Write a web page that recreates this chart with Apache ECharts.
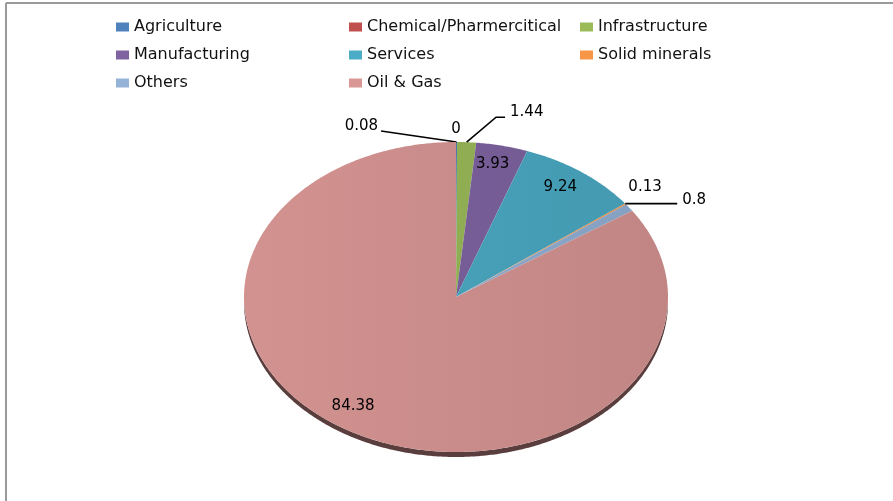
<!DOCTYPE html>
<html>
<head>
<meta charset="utf-8">
<script src="https://cdn.jsdelivr.net/npm/echarts@6/dist/echarts.min.js"></script>
<style>
html, body { margin: 0; padding: 0; background: #ffffff; }
#chart { width: 893px; height: 501px; }
</style>
</head>
<body>
<div id="chart"></div>
<script>
// Sector shares (percent)
const categories = ['Agriculture', 'Chemical/Pharmercitical', 'Infrastructure', 'Manufacturing',
                    'Services', 'Solid minerals', 'Others', 'Oil & Gas'];
const shares = [0.08, 0, 1.44, 3.93, 9.24, 0.13, 0.8, 84.38];

// Legend columns (read top to bottom)
const legendColumns = [
  ['Agriculture', 'Manufacturing', 'Others'],
  ['Chemical/Pharmercitical', 'Services', 'Oil & Gas'],
  ['Infrastructure', 'Solid minerals']
];

const palette = ['#4F81BD', '#C0504D', '#9BBB59', '#8064A2', '#4BACC6', '#F79646', '#95B3D7', '#D99694'];

// Tilted pie: ellipse centre, radii and visible depth of the side wall
const PIE = { cx: 456, cy: 297, rx: 212, ry: 155, depth: 5 };

// Label placement relative to the point on the rim at each slice's mid angle
const labelLayout = [
  { line: [[0, 0], [-75.5, -11]], text: [-78.5, -16], align: 'right' },
  { text: [-1, -12.5], align: 'center' },
  { line: [[0, 0], [29.4, -25], [38.4, -25]], text: [43.4, -29.7], align: 'left' },
  { inside: 0.84, text: [-2, -6], align: 'center' },
  { inside: 0.84, text: [-1, -4.5], align: 'center' },
  { text: [19.5, -16.5], align: 'center' },
  { line: [[-4, -4], [48, -4]], text: [53, -8], align: 'left' },
  { inside: 0.84, text: [-19, -6], align: 'center' }
];

const total = shares.reduce((a, b) => a + b, 0);
const starts = [];
shares.reduce((acc, v, i) => { starts[i] = acc; return acc + v; }, 0);

function shade(hex, k) {
  const n = parseInt(hex.slice(1), 16);
  const r = Math.round(((n >> 16) & 255) * k);
  const g = Math.round(((n >> 8) & 255) * k);
  const b = Math.round((n & 255) * k);
  return 'rgb(' + r + ',' + g + ',' + b + ')';
}

// angle t measured clockwise from 12 o'clock
function rimPoint(t, f, dy) {
  return [PIE.cx + PIE.rx * f * Math.sin(t), PIE.cy - PIE.ry * f * Math.cos(t) + (dy || 0)];
}

function arcPoints(t0, t1, dy) {
  const pts = [];
  const steps = Math.max(2, Math.ceil((t1 - t0) / (Math.PI / 360)));
  for (let k = 0; k <= steps; k++) {
    pts.push(rimPoint(t0 + (t1 - t0) * k / steps, 1, dy));
  }
  return pts;
}

function makeRenderer(idx) {
  return function (params, api) {
    const value = api.value(0);
    const t0 = starts[idx] / total * Math.PI * 2;
    const t1 = (starts[idx] + value) / total * Math.PI * 2;
    const tm = (t0 + t1) / 2;
    const children = [];
    const base = palette[idx];

    // side wall of the tilted disc, visible along the lower half
    if (t1 - t0 > Math.PI) {
      const a = Math.max(t0, Math.PI / 2), b = Math.min(t1, Math.PI * 1.5);
      const wall = arcPoints(a, b, PIE.depth).concat(arcPoints(a, b, 0).reverse());
      children.push({
        type: 'polygon',
        shape: { points: wall },
        style: { fill: '#5a3e3e' }
      });
    }

    if (t1 > t0) {
      const pts = [[PIE.cx, PIE.cy]].concat(arcPoints(t0, t1, 0));
      children.push({
        type: 'polygon',
        shape: { points: pts },
        style: {
          fill: {
            type: 'linear', global: true,
            x: PIE.cx - PIE.rx, y: 0, x2: PIE.cx + PIE.rx, y2: 0,
            colorStops: [
              { offset: 0, color: shade(base, 0.97) },
              { offset: 1, color: shade(base, 0.89) }
            ]
          }
        }
      });
    }

    const lay = labelLayout[idx];
    const anchor = rimPoint(tm, lay.inside || 1, 0);
    if (lay.line) {
      children.push({
        type: 'polyline',
        shape: { points: lay.line.map(p => [anchor[0] + p[0], anchor[1] + p[1]]) },
        style: { stroke: '#000', lineWidth: 1.6, fill: null }
      });
    }
    children.push({
      type: 'text',
      x: anchor[0] + lay.text[0],
      y: anchor[1] + lay.text[1],
      style: {
        text: String(value),
        fill: '#000',
        font: '15px "DejaVu Sans"',
        align: lay.align,
        verticalAlign: 'middle'
      }
    });
    return { type: 'group', children: children };
  };
}

const series = categories.map((name, i) => ({
  type: 'custom',
  name: name,
  coordinateSystem: 'none',
  itemStyle: { color: palette[i] },
  data: [[shares[i]]],
  renderItem: makeRenderer(i),
  silent: true
}));

const colLefts = [116, 349, 580];
const legends = legendColumns.map((col, c) => ({
  orient: 'vertical',
  left: colLefts[c],
  top: 19,
  padding: 0,
  itemWidth: 13,
  itemHeight: 9,
  itemGap: 12,
  icon: 'rect',
  data: col,
  textStyle: { fontFamily: 'DejaVu Sans', fontSize: 16, lineHeight: 16, color: '#111', padding: [0, 0, 0, 0] }
}));

const chart = echarts.init(document.getElementById('chart'), null, { renderer: 'canvas' });
chart.setOption({
  animation: false,
  backgroundColor: '#ffffff',
  legend: legends,
  series: series,
  graphic: [
    { type: 'line', shape: { x1: 6, y1: 3, x2: 893, y2: 3 }, style: { stroke: '#9a9a9a', lineWidth: 2 } },
    { type: 'line', shape: { x1: 6, y1: 3, x2: 6, y2: 501 }, style: { stroke: '#9a9a9a', lineWidth: 2 } }
  ]
});
</script>
</body>
</html>
